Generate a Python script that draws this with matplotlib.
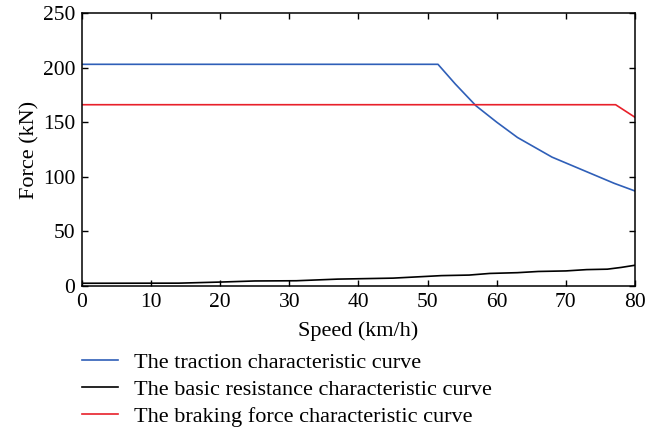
import numpy as np
import matplotlib
matplotlib.use('Agg')
import matplotlib.pyplot as plt

# traction characteristic (kN vs km/h)
traction_speed = [0, 51.5, 54, 57, 60, 63, 68, 72.5, 77, 80]
traction_force = [203, 203, 185, 165, 150, 136, 118, 106, 94, 87]

# basic resistance
resist_speed = [0, 14, 20, 25, 31, 37, 45, 52, 56, 59, 63, 66, 70, 73, 76, 78, 80]
resist_force = [2.5, 2.6, 3.6, 4.6, 4.8, 6.3, 7.2, 9.5, 10, 11.5, 12.2, 13.3, 13.8, 15, 15.4, 17, 19]

# braking force
brake_speed = [0, 77.2, 80]
brake_force = [166, 166, 154.5]

plt.rcParams['font.family'] = 'Liberation Serif'
fs_tick = 15.5
fs = 16

fig = plt.figure(figsize=(6.64, 4.30), dpi=100)
ax = fig.add_axes([0.1235, 0.3349, 0.8328, 0.6349])

ax.plot(traction_speed, traction_force, color='#2f5fb8', lw=1.2, label='The traction characteristic curve')
ax.plot(resist_speed, resist_force, color='black', lw=1.2, label='The basic resistance characteristic curve')
ax.plot(brake_speed, brake_force, color='#e8202a', lw=1.2, label='The braking force characteristic curve')

ax.set_xlim(0, 80)
ax.set_ylim(0, 250)
ax.set_xticks(np.arange(0, 81, 10))
ax.set_yticks(np.arange(0, 251, 50))
ax.tick_params(direction='in', top=True, right=True, length=4, width=1, labelsize=fs_tick, pad=5)
for s in ax.spines.values():
    s.set_linewidth(1.1)

ax.set_xlabel('Speed (km/h)', fontsize=fs, labelpad=7)
ax.set_ylabel('Force (kN)', fontsize=fs, labelpad=2)

fig.legend(loc='upper left', bbox_to_anchor=(0.1235, 0.18), bbox_transform=fig.transFigure,
           frameon=False, fontsize=fs, handlelength=1.6, handletextpad=0.72, labelspacing=0.28,
           borderaxespad=0, borderpad=0)

fig.savefig('out.png', dpi=100)
